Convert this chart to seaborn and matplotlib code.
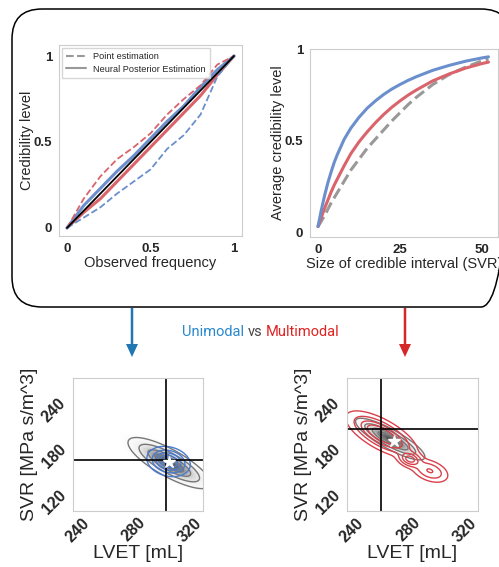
import numpy as np
import matplotlib
matplotlib.use("Agg")
import matplotlib.pyplot as plt
from matplotlib.patches import FancyBboxPatch
from matplotlib.lines import Line2D
import seaborn as sns

# ---- calibration curves (top left) ----
obs_freq = [0, 0.1, 0.2, 0.3, 0.4, 0.5, 0.6, 0.7, 0.8, 0.9, 1.0]
uni_point = [0, 0.06, 0.12, 0.2, 0.27, 0.34, 0.46, 0.54, 0.66, 0.88, 1.0]
multi_point = [0, 0.17, 0.3, 0.4, 0.47, 0.55, 0.66, 0.75, 0.83, 0.95, 1.0]
uni_npe = [0, 0.13, 0.23, 0.33, 0.42, 0.52, 0.62, 0.71, 0.82, 0.92, 1.0]
multi_npe = [0, 0.09, 0.17, 0.27, 0.37, 0.47, 0.57, 0.67, 0.77, 0.89, 1.0]

# ---- average credibility vs interval size (top right) ----
ci_size = [0, 1, 2, 3, 4, 5, 6, 8, 10, 12.5, 15, 17.5, 20, 22.5, 25, 27.5, 30, 35, 40, 45, 50, 52]
cred_uni = [0.03, 0.12, 0.2, 0.27, 0.33, 0.385, 0.43, 0.51, 0.57, 0.63, 0.68, 0.72, 0.755,
            0.785, 0.81, 0.833, 0.853, 0.888, 0.915, 0.938, 0.956, 0.962]
cred_multi = [0.03, 0.08, 0.13, 0.175, 0.22, 0.26, 0.295, 0.365, 0.43, 0.495, 0.55, 0.6, 0.645,
              0.685, 0.72, 0.752, 0.78, 0.83, 0.868, 0.9, 0.925, 0.933]
cred_point = [0.03, 0.06, 0.09, 0.125, 0.16, 0.19, 0.22, 0.28, 0.34, 0.4, 0.46, 0.51, 0.56,
              0.61, 0.655, 0.7, 0.74, 0.81, 0.865, 0.905, 0.94, 0.95]

# ---- posterior examples (bottom): gaussian components (mean_x, mean_y, sd_x, sd_y, corr, weight) ----
uni_truth = [303, 164]
uni_star = [304.5, 162]
uni_gray = [[305, 160, 12, 13.5, -0.8, 1.0]]
uni_blue = [[304.5, 162, 7.5, 9.5, -0.2, 1.0]]

multi_truth = [260.5, 204]
multi_star = [269.5, 188.5]
multi_gray = [[267, 191, 10, 11, -0.85, 1.0]]
multi_red = [[261, 197, 10, 12, -0.7, 0.6],
             [281, 165, 4, 5, -0.3, 0.1],
             [295, 150, 6, 7, -0.4, 0.1]]

BLUE = "#6b8fcc"
RED = "#d9646b"
GRAY = "#999999"

sns.set_style("white", {"axes.edgecolor": ".8"})
plt.rcParams['font.family'] = ['Liberation Sans', 'DejaVu Sans']

fig = plt.figure(figsize=(4.99, 5.67), dpi=100)
W, H = 499, 567


def px_axes(l, t, r, b, **kw):
    return fig.add_axes([l / W, 1 - b / H, (r - l) / W, (b - t) / H], **kw)


# background layer in pixel units: rounded box, arrows, caption
bg = px_axes(0, 0, W, H, zorder=-1)
bg.set_xlim(0, W)
bg.set_ylim(H, 0)
bg.axis("off")
bg.add_patch(FancyBboxPatch((12, 9), 499, 298, boxstyle="round,pad=0,rounding_size=30",
                            fc="none", ec="black", lw=1.1, clip_on=False))
bg.arrow(132, 308, 0, 49, width=2.5, head_width=12, head_length=13,
         length_includes_head=True, color="#1f77b4", lw=0)
bg.arrow(405, 308, 0, 49, width=2.5, head_width=12, head_length=13,
         length_includes_head=True, color="#d62728", lw=0)
bg.text(244, 332, "Unimodal", color="#2a88cc", ha="right", va="center", fontsize=10.5, family="Roboto")
bg.text(255, 332, "vs", color="#444444", ha="center", va="center", fontsize=10.5, family="Roboto")
bg.text(266, 332, "Multimodal", color="#e02222", ha="left", va="center", fontsize=10.5, family="Roboto")


def bold_ticks(ax, size, pad=4):
    ax.tick_params(labelsize=size, length=0, pad=pad)
    for lab in ax.get_xticklabels() + ax.get_yticklabels():
        lab.set_fontweight("bold")


# ---- top left ----
ax1 = px_axes(59, 45, 242, 236)
ax1.plot([0, 1], [0, 1], color="black", lw=1.3, zorder=3)
sns.lineplot(x=obs_freq, y=multi_npe, ax=ax1, color=RED, lw=2.2)
sns.lineplot(x=obs_freq, y=uni_npe, ax=ax1, color=BLUE, lw=2.2)
sns.lineplot(x=obs_freq, y=multi_point, ax=ax1, color=RED, lw=1.3, linestyle="--")
sns.lineplot(x=obs_freq, y=uni_point, ax=ax1, color=BLUE, lw=1.3, linestyle="--")
ax1.set_xlim(-0.048, 1.048)
ax1.set_ylim(-0.047, 1.064)
ax1.set_xticks([0, 0.5, 1], ["0", "0.5", "1"])
ax1.set_yticks([0, 0.5, 1], ["0", "0.5", "1"])
bold_ticks(ax1, 9.5, pad=5)
ax1.set_xlabel("Observed frequency", fontsize=10.5, labelpad=1)
ax1.set_ylabel("Credibility level", fontsize=10.5, labelpad=0)
handles = [Line2D([], [], color=GRAY, ls="--", lw=1.5),
           Line2D([], [], color=GRAY, ls="-", lw=1.5)]
ax1.legend(handles, ["Point estimation", "Neural Posterior Estimation"], loc="upper left",
           fontsize=6.6, frameon=True, borderpad=0.45, handlelength=2.2, labelspacing=0.4,
           fancybox=False, edgecolor=".8", borderaxespad=0.3)

# ---- top right ----
ax2 = px_axes(310, 49, 498, 237)
sns.lineplot(x=ci_size, y=cred_point, ax=ax2, color=GRAY, lw=2.2, linestyle="--")
sns.lineplot(x=ci_size, y=cred_multi, ax=ax2, color=RED, lw=2.2)
sns.lineplot(x=ci_size, y=cred_uni, ax=ax2, color=BLUE, lw=2.2)
ax2.set_xlim(-2.44, 54.9)
ax2.set_ylim(-0.027, 1.005)
ax2.set_xticks([0, 25, 50], ["0", "25", "50"])
ax2.set_yticks([0, 0.5, 1], ["0", "0.5", "1"])
bold_ticks(ax2, 9.5, pad=5)
ax2.set_xlabel("Size of credible interval (SVR)", fontsize=10.5, labelpad=1)
ax2.set_ylabel("Average credibility level", fontsize=10.5, labelpad=0)

# ---- bottom posterior plots ----
gx = np.linspace(230, 335, 260)
gy = np.linspace(90, 280, 260)
GX, GY = np.meshgrid(gx, gy)


def mixture(comps):
    z = np.zeros_like(GX)
    for mx, my, sx, sy, r, w in comps:
        dx = (GX - mx) / sx
        dy = (GY - my) / sy
        q = (dx ** 2 - 2 * r * dx * dy + dy ** 2) / (1 - r ** 2)
        z += w * np.exp(-0.5 * q) / (sx * sy * np.sqrt(1 - r ** 2))
    return z / z.max()


def posterior_panel(ax, gray, other, color, truth, star, levels):
    zg = mixture(gray)
    zo = mixture(other)
    ax.pcolormesh(GX, GY, zg, cmap="Greys", vmin=0, vmax=1.2, shading="auto", alpha=0.85)
    ax.contour(GX, GY, zg, levels=[0.05, 0.2, 0.45, 0.7], colors="#777777", linewidths=1)
    ax.contour(GX, GY, zo, levels=levels, colors=color, linewidths=1)
    ax.axvline(truth[0], color="black", lw=1.2)
    ax.axhline(truth[1], color="black", lw=1.2)
    ax.plot(star[0], star[1], marker="*", color="white", ms=9, mec="white", zorder=5)
    ax.set_xlim(236.5, 329)
    ax.set_ylim(98, 270)
    ax.set_xticks([240, 280, 320])
    ax.set_yticks([120, 180, 240])
    ax.tick_params(axis="x", rotation=45)
    ax.tick_params(axis="y", rotation=45)
    bold_ticks(ax, 11.5, pad=3)
    ax.set_xlabel("LVET [mL]", fontsize=14, labelpad=0)
    ax.set_ylabel("SVR [MPa s/m^3]", fontsize=14, labelpad=1)


ax3 = px_axes(73, 378, 203, 511)
posterior_panel(ax3, uni_gray, uni_blue, "#4a7bd0", uni_truth, uni_star, [0.12, 0.3, 0.5, 0.7, 0.88])
ax4 = px_axes(347, 378, 478, 511)
posterior_panel(ax4, multi_gray, multi_red, "#d9414a", multi_truth, multi_star, [0.04, 0.15, 0.35, 0.6])

fig.savefig("out.png", dpi=100)
